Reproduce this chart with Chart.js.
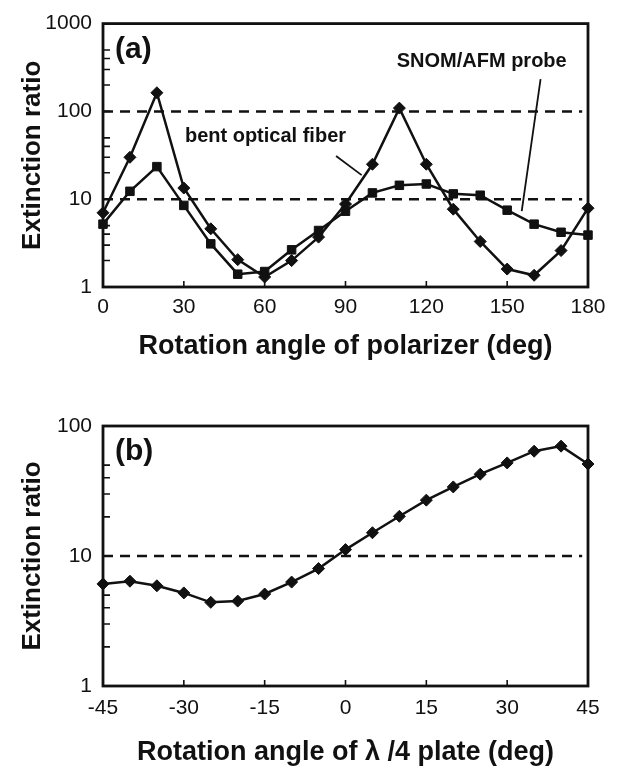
<!DOCTYPE html>
<html>
<head>
<meta charset="utf-8">
<script src="https://cdn.jsdelivr.net/npm/chart.js@4.4.1/dist/chart.umd.min.js"></script>
<style>
  html, body { margin: 0; padding: 0; background: #fff; }
  .wrap { position: absolute; left: 0; width: 619px; }
  #wa { top: 0; height: 380px; }
  #wb { top: 390px; height: 386px; }
</style>
</head>
<body>
<div class="wrap" id="wa"><canvas id="chartA"></canvas></div>
<div class="wrap" id="wb"><canvas id="chartB"></canvas></div>
<script>
// panel (a): extinction ratio vs polarizer angle
const anglesA = [0, 10, 20, 30, 40, 50, 60, 70, 80, 90, 100, 110, 120, 130, 140, 150, 160, 170, 180];
const fiberA = [7.0, 30, 163, 13.4, 4.6, 2.05, 1.3, 2.0, 3.7, 8.8, 25, 109, 25, 7.7, 3.3, 1.6, 1.36, 2.6, 7.9];
const probeA = [5.2, 12.3, 23.5, 8.5, 3.1, 1.4, 1.5, 2.65, 4.4, 7.3, 11.8, 14.4, 14.9, 11.5, 11.1, 7.5, 5.2, 4.2, 3.9];
const xTicksA = [0, 30, 60, 90, 120, 150, 180];
const yTicksA = [1, 10, 100, 1000];
const refLinesA = [10, 100];

// panel (b): extinction ratio vs lambda/4 plate angle
const anglesB = [-45, -40, -35, -30, -25, -20, -15, -10, -5, 0, 5, 10, 15, 20, 25, 30, 35, 40, 45];
const ratioB = [6.1, 6.4, 5.9, 5.2, 4.4, 4.5, 5.1, 6.3, 8.0, 11.2, 15.1, 20.2, 26.9, 34, 42.6, 52, 64, 70, 51];
const xTicksB = [-45, -30, -15, 0, 15, 30, 45];
const yTicksB = [1, 10, 100];
const refLinesB = [10];

const FONT = '"Liberation Sans", Arial, Helvetica, sans-serif';
const INK = '#111';

function pts(xs, ys) {
  return xs.map((x, i) => ({ x: x, y: ys[i] }));
}

function refSets(levels, xTicks) {
  const x0 = xTicks[0], x1 = xTicks[xTicks.length - 1];
  return levels.map(v => ({
    data: [{ x: x0, y: v }, { x: x1 - (x1 - x0) * 0.012, y: v }],
    borderColor: INK, borderWidth: 2.5, borderDash: [10, 7],
    pointRadius: 0, fill: false, order: 5
  }));
}

// frame, inside ticks, panel letter and annotations
const framePlugin = {
  id: 'frame',
  afterDatasetsDraw(chart, args, opts) {
    const { ctx, chartArea: a, scales: { x, y } } = chart;
    ctx.save();
    ctx.strokeStyle = INK;
    ctx.lineWidth = 2.8;
    ctx.strokeRect(a.left, a.top, a.right - a.left, a.bottom - a.top);

    ctx.lineWidth = 1.6;
    ctx.beginPath();
    opts.xTicks.forEach(v => {
      const px = x.getPixelForValue(v);
      ctx.moveTo(px, a.bottom);
      ctx.lineTo(px, a.bottom - 6);
    });
    opts.yTicks.slice(0, -1).forEach(d => {
      [1, 2, 3, 4, 5].forEach(m => {
        const py = y.getPixelForValue(d * m);
        ctx.moveTo(a.left, py);
        ctx.lineTo(a.left + 7, py);
      });
    });
    ctx.stroke();

    ctx.fillStyle = INK;
    ctx.textAlign = 'left';
    ctx.textBaseline = 'middle';
    ctx.font = 'bold 30px ' + FONT;
    ctx.fillText(opts.panel, a.left + 12, a.top + 26);

    ctx.font = 'bold 20px ' + FONT;
    (opts.notes || []).forEach(n => {
      ctx.fillText(n.text, x.getPixelForValue(n.x), y.getPixelForValue(n.y));
      ctx.beginPath();
      ctx.lineWidth = 1.8;
      ctx.moveTo(x.getPixelForValue(n.from[0]), y.getPixelForValue(n.from[1]));
      ctx.lineTo(x.getPixelForValue(n.to[0]), y.getPixelForValue(n.to[1]));
      ctx.stroke();
    });
    ctx.restore();
  }
};

function makeChart(id, cfg) {
  return new Chart(document.getElementById(id).getContext('2d'), {
    type: 'line',
    data: { datasets: cfg.datasets.concat(refSets(cfg.refLines, cfg.xTicks)) },
    options: {
      responsive: true,
      maintainAspectRatio: false,
      animation: false,
      layout: { padding: { top: cfg.padTop, right: 31, left: 0, bottom: 0 } },
      plugins: {
        legend: { display: false },
        tooltip: { enabled: false },
        frame: { xTicks: cfg.xTicks, yTicks: cfg.yTicks, panel: cfg.panel, notes: cfg.notes }
      },
      scales: {
        x: {
          type: 'linear',
          min: cfg.xTicks[0],
          max: cfg.xTicks[cfg.xTicks.length - 1],
          afterBuildTicks: s => { s.ticks = cfg.xTicks.map(v => ({ value: v })); },
          afterFit: s => { s.height = cfg.xHeight; },
          grid: { display: false, drawTicks: false },
          border: { display: false },
          ticks: { color: INK, padding: cfg.xLabelPad, maxRotation: 0, font: { family: FONT, size: 21 } },
          title: {
            display: true, text: cfg.xTitle, color: INK,
            padding: { top: 0, bottom: cfg.xTitlePad },
            font: { family: FONT, size: 27, weight: 'bold' }
          }
        },
        y: {
          type: 'logarithmic',
          min: cfg.yTicks[0],
          max: cfg.yTicks[cfg.yTicks.length - 1],
          afterBuildTicks: s => { s.ticks = cfg.yTicks.map(v => ({ value: v })); },
          afterFit: s => { s.width = 103; },
          grid: { display: false, drawTicks: false },
          border: { display: false },
          ticks: { color: INK, padding: 11, font: { family: FONT, size: 21 }, callback: v => String(v) },
          title: {
            display: true, text: 'Extinction ratio', color: INK,
            padding: { top: 17, bottom: 0 },
            font: { family: FONT, size: 26, weight: 'bold' }
          }
        }
      }
    },
    plugins: [framePlugin]
  });
}

const seriesStyle = {
  borderColor: INK, backgroundColor: INK, borderWidth: 2.5,
  pointBorderColor: INK, pointBackgroundColor: INK, pointBorderWidth: 1,
  tension: 0, fill: false, clip: 10, order: 1
};

makeChart('chartA', {
  panel: '(a)',
  padTop: 20, xHeight: 93, xLabelPad: 8, xTitlePad: 17,
  xTicks: xTicksA, yTicks: yTicksA, refLines: refLinesA,
  xTitle: 'Rotation angle of polarizer (deg)',
  datasets: [
    Object.assign({ label: 'bent optical fiber', data: pts(anglesA, fiberA), pointStyle: 'rectRot', pointRadius: 6 }, seriesStyle),
    Object.assign({ label: 'SNOM/AFM probe', data: pts(anglesA, probeA), pointStyle: 'rect', pointRadius: 6 }, seriesStyle)
  ],
  notes: [
    { text: 'bent optical fiber', x: 30.4, y: 52, from: [86.5, 31], to: [96, 18.8] },
    { text: 'SNOM/AFM probe', x: 109, y: 371, from: [162.4, 233], to: [155.4, 7.3] }
  ]
});

makeChart('chartB', {
  panel: '(b)',
  padTop: 36, xHeight: 90, xLabelPad: 10, xTitlePad: 7,
  xTicks: xTicksB, yTicks: yTicksB, refLines: refLinesB,
  xTitle: 'Rotation angle of \u03bb /4 plate (deg)',
  datasets: [
    Object.assign({ label: 'extinction ratio', data: pts(anglesB, ratioB), pointStyle: 'rectRot', pointRadius: 6 }, seriesStyle)
  ],
  notes: []
});
</script>
</body>
</html>
